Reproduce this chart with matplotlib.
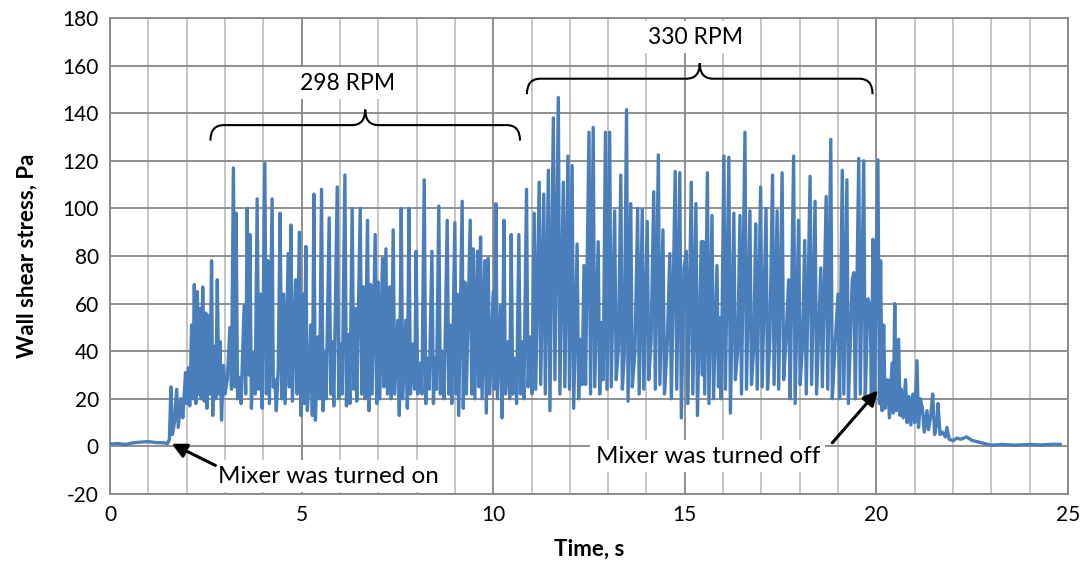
import matplotlib
matplotlib.use('Agg')
import matplotlib.pyplot as plt
from matplotlib.path import Path
from matplotlib.patches import PathPatch

plt.rcParams['font.family'] = ['Lato', 'DejaVu Sans']
plt.rcParams['axes.unicode_minus'] = False

# signal vertices (time in s, wall shear stress in Pa)
time_s = [0.0, 0.2, 0.4, 0.6, 0.8, 1.0, 1.2, 1.4, 1.5, 1.55, 1.59, 1.63, 1.68, 1.74, 1.78, 1.85, 1.9, 1.97,
          2.0, 2.05, 2.08, 2.13, 2.16, 2.2, 2.24, 2.28, 2.31, 2.35, 2.38, 2.42, 2.46, 2.5, 2.53, 2.57, 2.61,
          2.65, 2.68, 2.72, 2.76, 2.8, 2.84, 2.87, 2.91, 2.96, 3.0, 3.06, 3.13, 3.17, 3.22, 3.26, 3.29, 3.33,
          3.37, 3.42, 3.5, 3.54, 3.58, 3.62, 3.65, 3.69, 3.74, 3.79, 3.84, 3.88, 3.93, 3.97, 4.04, 4.08,
          4.12, 4.16, 4.23, 4.26, 4.3, 4.34, 4.39, 4.44, 4.48, 4.53, 4.57, 4.65, 4.68, 4.72, 4.76, 4.84,
          4.88, 4.94, 4.98, 5.04, 5.07, 5.11, 5.15, 5.2, 5.24, 5.28, 5.32, 5.36, 5.43, 5.47, 5.52, 5.56,
          5.6, 5.64, 5.72, 5.76, 5.8, 5.84, 5.93, 5.97, 6.02, 6.06, 6.13, 6.17, 6.22, 6.26, 6.32, 6.36,
          6.4, 6.44, 6.53, 6.57, 6.61, 6.65, 6.72, 6.76, 6.8, 6.84, 6.92, 6.96, 7.0, 7.04, 7.11, 7.15,
          7.2, 7.24, 7.3, 7.34, 7.39, 7.43, 7.51, 7.55, 7.6, 7.64, 7.72, 7.76, 7.8, 7.84, 7.91, 7.95,
          7.99, 8.03, 8.1, 8.14, 8.2, 8.24, 8.29, 8.33, 8.4, 8.44, 8.48, 8.52, 8.58, 8.62, 8.67, 8.72,
          8.8, 8.84, 8.87, 8.92, 9.0, 9.03, 9.06, 9.1, 9.19, 9.22, 9.26, 9.3, 9.4, 9.44, 9.48, 9.52,
          9.59, 9.63, 9.67, 9.71, 9.78, 9.82, 9.87, 9.91, 10.0, 10.03, 10.07, 10.11, 10.19, 10.23, 10.28,
          10.32, 10.39, 10.43, 10.47, 10.51, 10.57, 10.61, 10.67, 10.71, 10.76, 10.8, 10.87, 10.91, 10.97,
          11.01, 11.07, 11.11, 11.2, 11.24, 11.32, 11.36, 11.44, 11.48, 11.57, 11.61, 11.7, 11.74, 11.83,
          11.87, 11.95, 11.99, 12.06, 12.1, 12.19, 12.23, 12.28, 12.32, 12.37, 12.41, 12.5, 12.54, 12.61,
          12.65, 12.74, 12.78, 12.83, 12.87, 12.93, 12.97, 13.04, 13.08, 13.17, 13.21, 13.27, 13.33, 13.37,
          13.42, 13.48, 13.52, 13.59, 13.63, 13.7, 13.77, 13.81, 13.89, 13.93, 14.02, 14.06, 14.12, 14.19,
          14.23, 14.31, 14.35, 14.43, 14.47, 14.54, 14.61, 14.65, 14.75, 14.79, 14.87, 14.91, 14.98,
          15.04, 15.08, 15.17, 15.21, 15.29, 15.33, 15.43, 15.46, 15.48, 15.52, 15.59, 15.63, 15.71,
          15.75, 15.84, 15.88, 15.91, 15.95, 16.02, 16.06, 16.15, 16.19, 16.28, 16.32, 16.38, 16.44,
          16.48, 16.57, 16.61, 16.7, 16.74, 16.8, 16.85, 16.89, 16.98, 17.02, 17.12, 17.16, 17.22, 17.29,
          17.33, 17.41, 17.45, 17.54, 17.58, 17.64, 17.71, 17.75, 17.84, 17.88, 17.97, 18.01, 18.07,
          18.13, 18.17, 18.27, 18.31, 18.4, 18.44, 18.55, 18.59, 18.69, 18.73, 18.81, 18.85, 18.92, 19.0,
          19.04, 19.11, 19.15, 19.23, 19.27, 19.37, 19.41, 19.45, 19.54, 19.58, 19.67, 19.71, 19.78,
          19.84, 19.87, 19.91, 19.95, 20.04, 20.08, 20.11, 20.15, 20.19, 20.23, 20.3, 20.34, 20.41, 20.44,
          20.48, 20.52, 20.58, 20.62, 20.65, 20.7, 20.76, 20.8, 20.85, 20.9, 20.95, 21.0, 21.06, 21.1,
          21.15, 21.2, 21.25, 21.32, 21.36, 21.42, 21.47, 21.52, 21.58, 21.61, 21.66, 21.72, 21.8, 21.84,
          21.9, 22.0, 22.1, 22.2, 22.35, 22.5, 22.7, 23.0, 23.3, 23.6, 24.0, 24.3, 24.6, 24.8]
stress_pa = [1.0, 1.2, 0.8, 1.5, 1.8, 2.0, 1.6, 1.5, 1.2, 3, 25, 5, 10, 24, 8, 20, 12, 31,
             18, 33, 17, 51, 20, 68, 18, 65, 22, 58, 20, 67, 19, 56, 16, 55, 22,
             78, 13, 42, 20, 70, 22, 44, 11, 34, 22, 28, 50, 24, 117, 25, 98, 20,
             29, 18, 59, 22, 100, 30, 89, 16, 39, 22, 104, 24, 64, 16, 119, 22,
             78, 18, 104, 25, 28, 15, 33, 98, 20, 64, 18, 81, 25, 93, 19, 70,
             22, 90, 13, 64, 18, 84, 15, 30, 51, 13, 106, 11, 46, 20, 108, 15,
             40, 20, 96, 22, 44, 17, 109, 20, 43, 22, 114, 17, 47, 18, 100, 24,
             58, 19, 100, 22, 67, 20, 95, 15, 68, 22, 89, 18, 69, 20, 79, 25,
             83, 22, 67, 20, 91, 22, 53, 13, 100, 20, 53, 16, 100, 22, 43, 24,
             82, 22, 35, 22, 112, 18, 37, 24, 82, 18, 37, 24, 101, 22, 40, 20,
             95, 22, 51, 18, 94, 22, 64, 13, 103, 16, 69, 22, 95, 22, 83, 20,
             82, 25, 88, 20, 78, 14, 79, 22, 65, 24, 102, 20, 59, 12, 95,
             22, 44, 20, 89, 22, 37, 18, 89, 22, 44, 20, 108, 25, 46,
             22, 98, 24, 111, 26, 106, 22, 116, 15, 138, 28, 146.6, 22, 111,
             25, 122, 24, 118, 16, 85, 20, 45, 26, 76, 26, 132, 22, 134,
             25, 86, 22, 52, 28, 132, 24, 132, 25, 99, 28, 42, 114, 24,
             38, 141.5, 19, 102, 25, 40, 100, 22, 99.5, 24, 94.5, 28, 44, 107,
             24, 122.5, 26, 91, 22, 42, 81, 20, 115.5, 24, 115, 12, 75,
             82, 18, 111, 22, 102, 13, 86, 30, 86, 22, 115, 18, 97,
             20, 76, 25, 54, 20, 122, 24, 121.5, 14, 98, 28, 40, 97,
             22, 132, 24, 99, 26, 42, 93.5, 24, 109, 25, 100, 24, 45, 114,
             26, 99, 24, 115, 28, 44, 70, 20, 122, 18, 95, 26, 42,
             86.5, 22, 113.5, 26, 103, 22, 75, 25, 105, 24, 129, 20, 42, 64,
             20, 116, 22, 112, 18, 70, 73, 20, 121, 22, 120, 20, 62,
             58, 22, 87, 22, 120.4, 18, 78, 15, 51, 16, 28, 12, 35, 14,
             60, 15, 45, 13, 24, 12, 28, 10, 21, 9, 22, 10, 36, 8,
             20, 16, 6, 15, 7, 13, 22, 5, 10, 18, 5, 6, 4, 8,
             3, 2.4, 3.5, 3, 4, 2.5, 1.7, 0.5, 0.8, 0.5, 0.8, 0.6, 0.9, 0.8]

x_ticks = [0, 5, 10, 15, 20, 25]
y_ticks = [-20, 0, 20, 40, 60, 80, 100, 120, 140, 160, 180]

# regime braces: (start, end, level, label)
braces = [(2.62, 10.7, 135, '298 RPM'), (10.88, 19.9, 154.5, '330 RPM')]

line_blue = '#4A7EBB'
grid_dark = '#878787'
grid_light = '#C0C0C0'

fig = plt.figure(figsize=(10.85, 5.65), dpi=100)
ax = fig.add_axes([0.1014, 0.1257, 0.8829, 0.8424])

ax.set_xlim(0, 25)
ax.set_ylim(-20, 180)
ax.set_xticks(x_ticks)
ax.set_xticks(range(0, 26), minor=True)
ax.set_yticks(y_ticks)
ax.grid(True, which='minor', axis='x', color=grid_light, lw=1.3)
ax.grid(True, which='major', axis='x', color=grid_dark, lw=1.3)
ax.grid(True, which='major', axis='y', color=grid_dark, lw=1.3)
ax.set_axisbelow(True)
for s in ax.spines.values():
    s.set_color(grid_dark)
    s.set_linewidth(1.3)
ax.tick_params(which='both', length=0, labelsize=15, pad=8)

ax.plot(time_s, stress_pa, color=line_blue, lw=2.4, zorder=3)

ax.set_xlabel('Time, s', fontsize=16, fontweight='bold', labelpad=10)
ax.set_ylabel('Wall shear stress, Pa', fontsize=16, fontweight='bold', labelpad=18)

# curly braces
rx, ry, tip = 0.35, 6.5, 6.5
for x0, x1, yb, label in braces:
    xm = (x0 + x1) / 2
    verts = [(x0, yb - ry), (x0, yb), (x0 + rx, yb),
             (xm - rx, yb), (xm, yb), (xm, yb + tip),
             (xm, yb), (xm + rx, yb),
             (x1 - rx, yb), (x1, yb), (x1, yb - ry)]
    codes = [Path.MOVETO, Path.CURVE3, Path.CURVE3,
             Path.LINETO, Path.CURVE3, Path.CURVE3,
             Path.CURVE3, Path.CURVE3,
             Path.LINETO, Path.CURVE3, Path.CURVE3]
    ax.add_patch(PathPatch(Path(verts, codes), fc='none', ec='black', lw=1.5, zorder=5))
    ax.text(xm - 0.45 if label == '298 RPM' else xm - 0.1, yb + 17.5, label, fontsize=16.5,
            ha='center', va='center', bbox=dict(fc='white', ec='none', pad=4), zorder=4)

box = dict(fc='white', ec='none', pad=4)
ax.text(5.69, -12.6, 'Mixer was turned on', fontsize=17.5, ha='center', va='center', bbox=box, zorder=4)
ax.text(15.6, -4.2, 'Mixer was turned off', fontsize=17.5, ha='center', va='center', bbox=box, zorder=4)

arrow = dict(arrowstyle='-|>', color='black', lw=2.2, mutation_scale=22, shrinkA=0, shrinkB=0)
ax.annotate('', xy=(1.61, 1.1), xytext=(2.75, -8.0), arrowprops=arrow, zorder=6)
ax.annotate('', xy=(20.04, 23.5), xytext=(18.85, 1.5), arrowprops=arrow, zorder=6)

fig.savefig('out.png', dpi=100)
